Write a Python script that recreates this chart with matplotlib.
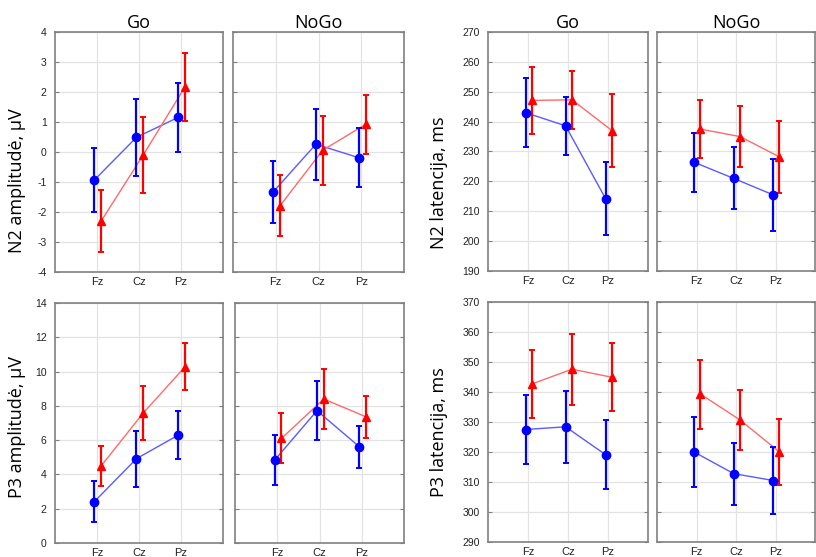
import matplotlib
matplotlib.use("Agg")
import matplotlib.pyplot as plt

plt.rcParams['font.family'] = ['Liberation Sans', 'DejaVu Sans']
plt.rcParams['axes.unicode_minus'] = False

electrodes = ['Fz', 'Cz', 'Pz']
conditions = ['Go', 'NoGo']

# N2 amplitude (uV): blue (circles) and red (triangles) groups
n2amp_blue = {'Go': [-0.93, 0.49, 1.16], 'NoGo': [-1.33, 0.26, -0.19]}
n2amp_blue_err = {'Go': [1.06, 1.28, 1.15], 'NoGo': [1.04, 1.18, 0.98]}
n2amp_red = {'Go': [-2.30, -0.10, 2.18], 'NoGo': [-1.79, 0.06, 0.92]}
n2amp_red_err = {'Go': [1.04, 1.26, 1.13], 'NoGo': [1.02, 1.15, 0.97]}

# N2 latency (ms)
n2lat_blue = {'Go': [243.0, 238.6, 214.2], 'NoGo': [226.4, 221.0, 215.5]}
n2lat_blue_err = {'Go': [11.5, 9.8, 12.2], 'NoGo': [9.8, 10.4, 12.0]}
n2lat_red = {'Go': [247.1, 247.3, 237.0], 'NoGo': [237.5, 235.0, 228.2]}
n2lat_red_err = {'Go': [11.2, 9.7, 12.2], 'NoGo': [9.6, 10.2, 12.0]}

# P3 amplitude (uV)
p3amp_blue = {'Go': [2.42, 4.92, 6.30], 'NoGo': [4.84, 7.72, 5.62]}
p3amp_blue_err = {'Go': [1.20, 1.64, 1.40], 'NoGo': [1.45, 1.74, 1.23]}
p3amp_red = {'Go': [4.50, 7.58, 10.29], 'NoGo': [6.10, 8.40, 7.36]}
p3amp_red_err = {'Go': [1.18, 1.60, 1.37], 'NoGo': [1.46, 1.73, 1.22]}

# P3 latency (ms)
p3lat_blue = {'Go': [327.5, 328.4, 319.1], 'NoGo': [320.0, 312.8, 310.5]}
p3lat_blue_err = {'Go': [11.6, 12.1, 11.5], 'NoGo': [11.8, 10.3, 11.2]}
p3lat_red = {'Go': [342.7, 347.6, 344.9], 'NoGo': [339.3, 330.7, 320.0]}
p3lat_red_err = {'Go': [11.4, 11.9, 11.3], 'NoGo': [11.5, 10.0, 11.0]}

W, H = 816, 557
fig = plt.figure(figsize=(W / 100, H / 100), dpi=100)


def box(x0, y0, x1, y1):
    return [x0 / W, 1 - y1 / H, (x1 - x0) / W, (y1 - y0) / H]


panels = [
    # (pixel box, blue, blue err, red, red err, ylim, ystep, ylabel, label pos, cond, title?)
    ((55, 32, 223, 272), n2amp_blue, n2amp_blue_err, n2amp_red, n2amp_red_err,
     (-4, 4), 1, 'N2 amplitudė, µV', (-0.17, 0.38), 'Go', True),
    ((233, 32, 404, 272), n2amp_blue, n2amp_blue_err, n2amp_red, n2amp_red_err,
     (-4, 4), 1, None, None, 'NoGo', True),
    ((488, 32, 648, 271), n2lat_blue, n2lat_blue_err, n2lat_red, n2lat_red_err,
     (190, 270), 10, 'N2 latencija, ms', (-0.25, 0.37), 'Go', True),
    ((657, 32, 815, 271), n2lat_blue, n2lat_blue_err, n2lat_red, n2lat_red_err,
     (190, 270), 10, None, None, 'NoGo', True),
    ((55, 303, 223, 543), p3amp_blue, p3amp_blue_err, p3amp_red, p3amp_red_err,
     (0, 14), 2, 'P3 amplitudė, µV', (-0.17, 0.483), 'Go', False),
    ((235, 303, 404, 543), p3amp_blue, p3amp_blue_err, p3amp_red, p3amp_red_err,
     (0, 14), 2, None, None, 'NoGo', False),
    ((488, 302, 648, 542), p3lat_blue, p3lat_blue_err, p3lat_red, p3lat_red_err,
     (290, 370), 10, 'P3 latencija, ms', (-0.25, 0.458), 'Go', False),
    ((657, 302, 815, 542), p3lat_blue, p3lat_blue_err, p3lat_red, p3lat_red_err,
     (290, 370), 10, None, None, 'NoGo', False),
]

xpos = [1, 2, 3]
for (pb, blue, blue_e, red, red_e, ylim, ystep, ylabel, lpos, cond, show_title) in panels:
    ax = fig.add_axes(box(*pb))
    xb = [x - 0.06 for x in xpos]
    xr = [x + 0.10 for x in xpos]
    ax.plot(xb, blue[cond], color='#5a5aff', lw=1.0, zorder=3)
    ax.errorbar(xb, blue[cond], yerr=blue_e[cond], fmt='o', color='#0000ff',
                ms=6, elinewidth=1.6, capsize=2, capthick=1.4, zorder=4)
    ax.plot(xr, red[cond], color='#ff6a6a', lw=1.0, zorder=3)
    ax.errorbar(xr, red[cond], yerr=red_e[cond], fmt='^', color='#ff0000',
                ms=6, elinewidth=1.6, capsize=2, capthick=1.4, zorder=4)

    ax.set_xlim(0, 4)
    ax.set_ylim(*ylim)
    ax.set_xticks(xpos)
    ax.set_xticklabels(electrodes)
    ax.set_yticks(range(ylim[0], ylim[1] + 1, ystep))
    ax.grid(True, color='#e3e3e3', lw=0.9)
    ax.set_axisbelow(True)
    for s in ax.spines.values():
        s.set_color('#808080')
        s.set_linewidth(1.2)
    ax.tick_params(axis='y', direction='in', length=3, color='#808080',
                   labelsize=7.5, labelcolor='#222222', pad=6, right=True)
    ax.tick_params(axis='x', length=0, labelsize=8, labelcolor='#222222', pad=3.5)
    if ylabel:
        ax.set_ylabel(ylabel, fontsize=13, family=['Open Sans', 'DejaVu Sans'])
        ax.yaxis.set_label_coords(*lpos)
    else:
        ax.set_yticklabels([])
    if show_title:
        ax.set_title(cond, fontsize=13, family=['Open Sans', 'DejaVu Sans'],
                     pad=3)

fig.savefig('out.png', dpi=100)
